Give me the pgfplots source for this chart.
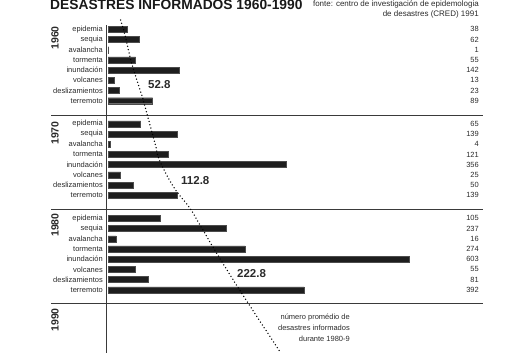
\documentclass[border=0pt]{standalone}
\usepackage{fontspec}
\setmainfont{Liberation Sans}
\usepackage{pgfplots}
\pgfplotsset{compat=1.18}
\definecolor{barc}{HTML}{1E1E1E}
\definecolor{linec}{HTML}{3A3A3A}
\definecolor{txt}{HTML}{2A2A2A}
\tikzset{
  lab/.style={anchor=east, inner sep=0pt, font=\fontsize{7.5}{9}\selectfont, text=txt},
  val/.style={anchor=east, inner sep=0pt, font=\fontsize{7.5}{9}\selectfont, text=txt},
  src/.style={anchor=east, inner sep=0pt, font=\fontsize{8}{9}\selectfont, text=txt},
  yr/.style={rotate=90, inner sep=0pt, font=\fontsize{10.5}{12}\selectfont\bfseries, text=txt},
  avg/.style={anchor=west, inner sep=0pt, font=\fontsize{11.5}{13}\selectfont\bfseries, text=txt},
}
\begin{document}
\begin{tikzpicture}
\begin{axis}[
  width=528pt, height=352pt, scale only axis,
  xmin=-216, xmax=840, ymin=-2.873, ymax=31.64, y dir=reverse,
  hide axis, clip=false,
]
% separators and vertical axis line
\addplot[linec, line width=0.8pt] coordinates {(-114,8.4) (750,8.4)};
\addplot[linec, line width=0.8pt] coordinates {(-114,17.62) (750,17.62)};
\addplot[linec, line width=0.8pt] coordinates {(-114,26.83) (750,26.83)};
\addplot[linec, line width=0.8pt] coordinates {(-4,-0.42) (-4,31.7)};
% bars 1960
\addplot[xbar, bar width=6pt, bar shift=0pt, fill=barc, draw=gray!60!black, line width=0.3pt] coordinates {
 (38,0) (62,1) (1,2) (55,3) (142,4) (13,5) (23,6) (89,7)};
% bars 1970
\addplot[xbar, bar width=6pt, bar shift=0pt, fill=barc, draw=gray!60!black, line width=0.3pt] coordinates {
 (65,9.27) (139,10.27) (4,11.27) (121,12.27) (356,13.27) (25,14.27) (50,15.27) (139,16.27)};
% bars 1980
\addplot[xbar, bar width=6pt, bar shift=0pt, fill=barc, draw=gray!60!black, line width=0.3pt] coordinates {
 (105,18.54) (237,19.54) (16,20.54) (274,21.54) (603,22.54) (55,23.54) (81,24.54) (392,25.54)};
% dotted average line
\addplot[black, smooth, line width=1.5pt, dash pattern=on 0pt off 3.4pt, line cap=round] coordinates {
 (25.4,-0.91) (34,0.56) (47.4,3.33) (69.4,6.76) (79.4,8.57) (94,11.18) (102.6,12.81)
 (130.6,15.43) (164,17.55) (184,19.19) (217.4,21.96) (267.4,25.88) (344,31.61)};
% category labels
\pgfplotsinvokeforeach{0,9.27,18.54}{
 \node[lab] at (axis cs:-10,#1) {epidemia};
 \node[lab] at (axis cs:-10,#1+1) {sequia};
 \node[lab] at (axis cs:-10,#1+2) {avalancha};
 \node[lab] at (axis cs:-10,#1+3) {tormenta};
 \node[lab] at (axis cs:-10,#1+4) {inundación};
 \node[lab] at (axis cs:-10,#1+5) {volcanes};
 \node[lab] at (axis cs:-10,#1+6) {deslizamientos};
 \node[lab] at (axis cs:-10,#1+7) {terremoto};
}
% values
\node[val] at (axis cs:742,0) {38};
\node[val] at (axis cs:742,1) {62};
\node[val] at (axis cs:742,2) {1};
\node[val] at (axis cs:742,3) {55};
\node[val] at (axis cs:742,4) {142};
\node[val] at (axis cs:742,5) {13};
\node[val] at (axis cs:742,6) {23};
\node[val] at (axis cs:742,7) {89};
\node[val] at (axis cs:742,9.27) {65};
\node[val] at (axis cs:742,10.27) {139};
\node[val] at (axis cs:742,11.27) {4};
\node[val] at (axis cs:742,12.27) {121};
\node[val] at (axis cs:742,13.27) {356};
\node[val] at (axis cs:742,14.27) {25};
\node[val] at (axis cs:742,15.27) {50};
\node[val] at (axis cs:742,16.27) {139};
\node[val] at (axis cs:742,18.54) {105};
\node[val] at (axis cs:742,19.54) {237};
\node[val] at (axis cs:742,20.54) {16};
\node[val] at (axis cs:742,21.54) {274};
\node[val] at (axis cs:742,22.54) {603};
\node[val] at (axis cs:742,23.54) {55};
\node[val] at (axis cs:742,24.54) {81};
\node[val] at (axis cs:742,25.54) {392};
% years
\node[yr] at (axis cs:-106,0.85) {1960};
\node[yr] at (axis cs:-106,10.17) {1970};
\node[yr] at (axis cs:-106,19.19) {1980};
\node[yr] at (axis cs:-106,28.5) {1990};
% averages
\node[avg] at (axis cs:80,5.46) {52.8};
\node[avg] at (axis cs:146,14.84) {112.8};
\node[avg] at (axis cs:258,23.99) {222.8};
% annotation
\node[val] at (axis cs:484,28.27) {número promédio de};
\node[val] at (axis cs:484,29.25) {desastres informados};
\node[val] at (axis cs:484,30.3) {durante 1980-9};
% title and source
\node[anchor=base west, inner sep=0pt, font=\fontsize{13.8}{16}\selectfont\bfseries, text=black!90] at (axis cs:-116,-1.94) {DESASTRES INFORMADOS 1960-1990};
\node[src] at (axis cs:742,-2.45) {fonte: centro de investigación de epidemologia};
\node[src] at (axis cs:742,-1.45) {de desastres (CRED) 1991};
\end{axis}
\pgfresetboundingbox
\path[use as bounding box] (current axis.south west) rectangle (current axis.north east);
\end{tikzpicture}
\end{document}
